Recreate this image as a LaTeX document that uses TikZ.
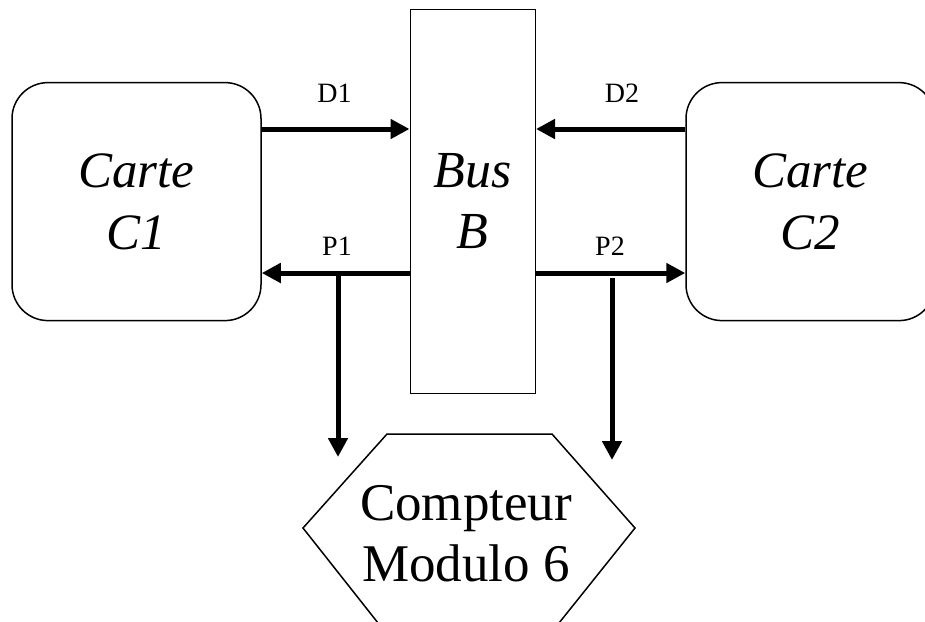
\documentclass[tikz,border=0pt]{standalone}
\usepackage{fontspec}
\setmainfont{Liberation Serif}
\usetikzlibrary{arrows.meta}
\begin{document}
\begin{tikzpicture}[x=1pt,y=-1pt,
  card/.style={draw, line width=1.5pt, rounded corners=36pt, minimum width=249pt, minimum height=238pt, inner sep=0pt, align=center, font=\fontsize{51}{62}\selectfont\itshape},
  busbox/.style={draw, line width=1.5pt, minimum width=125pt, minimum height=384pt, inner sep=0pt, align=center, font=\fontsize{52}{61}\selectfont\itshape},
  sig/.style={line width=5pt, -{Triangle[length=19pt,width=19pt]}},
  lbl/.style={anchor=base, font=\fontsize{28}{30}\selectfont, inner sep=0pt},
  hexline/.style={line width=1.5pt, line join=miter},
  hextext/.style={align=center, inner sep=0pt, font=\fontsize{53}{61}\selectfont}
]
\useasboundingbox (0,0) rectangle (925,621);
\clip (0,0) rectangle (925,621);
% boxes
\node[card] (c1) at (136.5,201.6) {Carte\\C1};
\node[card] (c2) at (810.5,201.6) {Carte\\C2};
\node[busbox] (bus) at (472.75,201.5) {Bus\\B};
% levels
\coordinate (yD) at (0,129);
\coordinate (yP) at (0,273);
% signals
\draw[sig] (c1.east |- yD) -- (bus.west |- yD);
\draw[sig] (c2.west |- yD) -- (bus.east |- yD);
\draw[sig] (bus.west |- yP) -- (c1.east |- yP);
\draw[sig] (bus.east |- yP) -- (c2.west |- yP);
% labels
\node[lbl] (d1) at (334.5,102) {D1};
\node[lbl] (d2) at (622,102) {D2};
\node[lbl] (p1) at (337,255) {P1};
\node[lbl] (p2) at (610,255) {P2};
% hexagon
\draw[hexline] (387,434) -- (552,434) -- (635,528) -- (555,628) -- (382,628) -- (303,528) -- cycle;
\node[hextext] (cpt) at (466,534) {Compteur\\Modulo 6};
% vertical arrows
\coordinate (v1s) at (338,275);
\coordinate (v1e) at (338,457);
\coordinate (v2s) at (612,278);
\coordinate (v2e) at (612,460);
\draw[sig] (v1s) -- (v1e);
\draw[sig] (v2s) -- (v2e);
\end{tikzpicture}
\end{document}
